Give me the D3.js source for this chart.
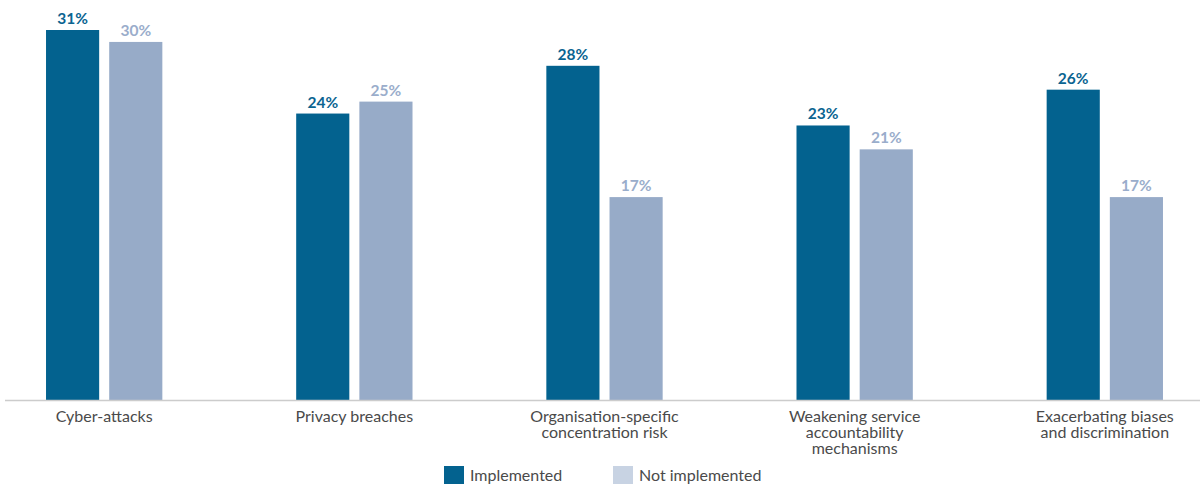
<!DOCTYPE html>
<html>
<head>
<meta charset="utf-8">
<script src="https://cdn.jsdelivr.net/npm/d3@7"></script>
<style>
	body { margin: 0; background: #fff; }
	svg { display: block; font-family: Lato, "Open Sans", sans-serif; }
	.value-label { font-weight: 700; font-size: 15.5px; }
	.cat-label { font-size: 16px; fill: #4a4a4a; }
	.legend-labels { font-size: 16px; fill: #4a4a4a; }
</style>
</head>
<body>
<svg id="viz"></svg>
<script>
// Chart data
const categories = [
	["Cyber-attacks"],
	["Privacy breaches"],
	["Organisation-specific", "concentration risk"],
	["Weakening service", "accountability", "mechanisms"],
	["Exacerbating biases", "and discrimination"]
];
const groups = ["Implemented", "Not implemented"];
const implemented = [31, 24, 28, 23, 26];
const notImplemented = [30, 25, 17, 21, 17];

let translate = function(x, y) {
	return 'translate(' + x + ',' + y + ')';
}

let drawEverything = function() {
	const width = 1200;
	const height = 486;
	const baseline = 400;

	const svg = d3.select("svg#viz")
		.attr("width", width)
		.attr("height", height);

	const data = categories.map((c, i) => ({
		name: c.join(" "),
		lines: c,
		values: { "Implemented": implemented[i], "Not implemented": notImplemented[i] }
	}));

	// outer scale for category groups
	const x0 = d3.scaleBand()
		.domain(data.map(d => d.name))
		.range([6, 1203])
		.paddingInner(0.535)
		.paddingOuter(0.16);

	// inner scale for the two bars
	const x1 = d3.scaleBand()
		.domain(groups)
		.range([0, x0.bandwidth()])
		.paddingInner(0.159);

	const y = d3.scaleLinear()
		.domain([0, 31])
		.range([baseline, 30]);

	const barColor = d3.scaleOrdinal().domain(groups).range(["#03628f", "#97abc8"]);
	const labelColor = d3.scaleOrdinal().domain(groups).range(["#0b6491", "#9aadcb"]);
	const legendColor = d3.scaleOrdinal().domain(groups).range(["#03628f", "#c8d3e3"]);

	// bars
	const group = svg.append("g").attr("id", "bars")
		.selectAll("g")
		.data(data)
		.join("g")
		.attr("transform", d => translate(x0(d.name), 0));

	group.selectAll("rect")
		.data(d => groups.map(k => ({ key: k, value: d.values[k] })))
		.join("rect")
		.attr("x", d => x1(d.key))
		.attr("y", d => y(d.value))
		.attr("width", x1.bandwidth())
		.attr("height", d => baseline - y(d.value))
		.attr("fill", d => barColor(d.key));

	group.selectAll("text.value-label")
		.data(d => groups.map(k => ({ key: k, value: d.values[k] })))
		.join("text")
		.attr("class", "value-label")
		.attr("x", d => x1(d.key) + x1.bandwidth() / 2)
		.attr("y", d => y(d.value) - 6)
		.attr("text-anchor", "middle")
		.attr("fill", d => labelColor(d.key))
		.text(d => d.value + "%");

	// baseline axis
	svg.append("line")
		.attr("x1", 5)
		.attr("x2", width)
		.attr("y1", baseline + 0.5)
		.attr("y2", baseline + 0.5)
		.attr("stroke", "#cccccc")
		.attr("stroke-width", 1.5);

	// category labels
	const cat = svg.append("g").attr("id", "x-labels")
		.selectAll("text")
		.data(data)
		.join("text")
		.attr("class", "cat-label")
		.attr("text-anchor", "middle")
		.attr("x", d => x0(d.name) + x0.bandwidth() / 2)
		.attr("y", 422);

	cat.selectAll("tspan")
		.data(d => d.lines)
		.join("tspan")
		.attr("x", function() { return d3.select(this.parentNode).attr("x"); })
		.attr("dy", (d, i) => i === 0 ? 0 : 16)
		.text(d => d);

	// legend
	const legendX = [444, 613];
	const legend = svg.append("g").attr("id", "legend");
	const item = legend.selectAll("g")
		.data(groups)
		.join("g")
		.attr("transform", (d, i) => translate(legendX[i], 466));

	item.append("rect")
		.attr("width", 20)
		.attr("height", 18)
		.attr("fill", d => legendColor(d));

	item.append("text")
		.attr("class", "legend-labels")
		.attr("x", 26)
		.attr("y", 15)
		.text(d => d);
};

drawEverything();
</script>
</body>
</html>
